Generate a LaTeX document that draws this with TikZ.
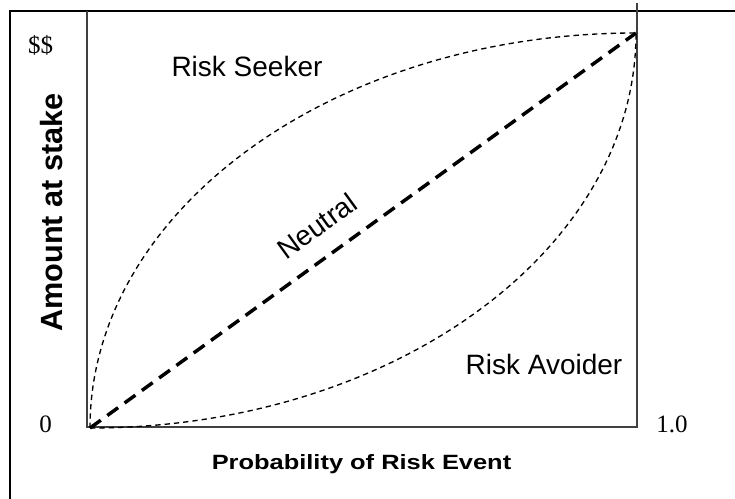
\documentclass[tikz,border=0pt]{standalone}
\usepackage{fontspec}
\setmainfont{Liberation Serif}
\setsansfont{Liberation Sans}
\begin{document}
\begin{tikzpicture}[x=0.75pt,y=0.75pt,
  frame/.style={line width=1.5pt, black},
  axis/.style={line width=1.1pt, black!75},
  curve/.style={line width=1pt, dash pattern=on 4pt off 3pt},
  neutral/.style={line width=2.6pt, dash pattern=on 10pt off 6pt},
  lab/.style={inner sep=0pt, font=\sffamily\fontsize{21}{25}\selectfont},
  num/.style={inner sep=0pt, font=\rmfamily\fontsize{18.75}{22}\selectfont},
  axlab/.style={inner sep=0pt, font=\sffamily\bfseries\fontsize{23}{27}\selectfont},
  xlab/.style={inner sep=0pt, font=\sffamily\bfseries\fontsize{15.5}{18}\selectfont}]
\useasboundingbox (0,0) rectangle (735,499);
% outer frame
\coordinate (FB) at (10,0);
\coordinate (FC) at (10,488);
\coordinate (FR) at (735,488);
\draw[frame] (FB) -- (FC) -- (FR);
% axes box
\coordinate (A1) at (87,488);
\coordinate (A2) at (87,72);
\coordinate (A3) at (637,72);
\coordinate (A4) at (637,496);
\draw[axis] (A1) -- (A2) -- (A3) -- (A4);
% curves
\coordinate (O) at (90,71);
\coordinate (T) at (636,466);
\draw[curve] (O) .. controls (90,289.2) and (334.4,466) .. (T);
\draw[curve] (O) .. controls (391.6,71) and (636,247.8) .. (T);
\draw[neutral] (O) -- (T);
% labels
\node[num] (dd) at (40.5,454) {\$\$};
\node[num] (zero) at (45.5,74.5) {0};
\node[num] (one) at (672,75) {1.0};
\node[lab, anchor=base] (seek) at (247,422) {Risk Seeker};
\node[lab, anchor=base] (avoid) at (544,124) {Risk Avoider};
\node[lab, rotate=35.9] (neut) at (317,273) {Neutral};
\node[axlab, anchor=base, rotate=90] (ylab) at (62.5,286.5) {Amount at stake};
\node[xlab, anchor=base] (xl) at (361.5,29) {\scalebox{1.23}[1]{Probability of Risk Event}};
\end{tikzpicture}
\end{document}
